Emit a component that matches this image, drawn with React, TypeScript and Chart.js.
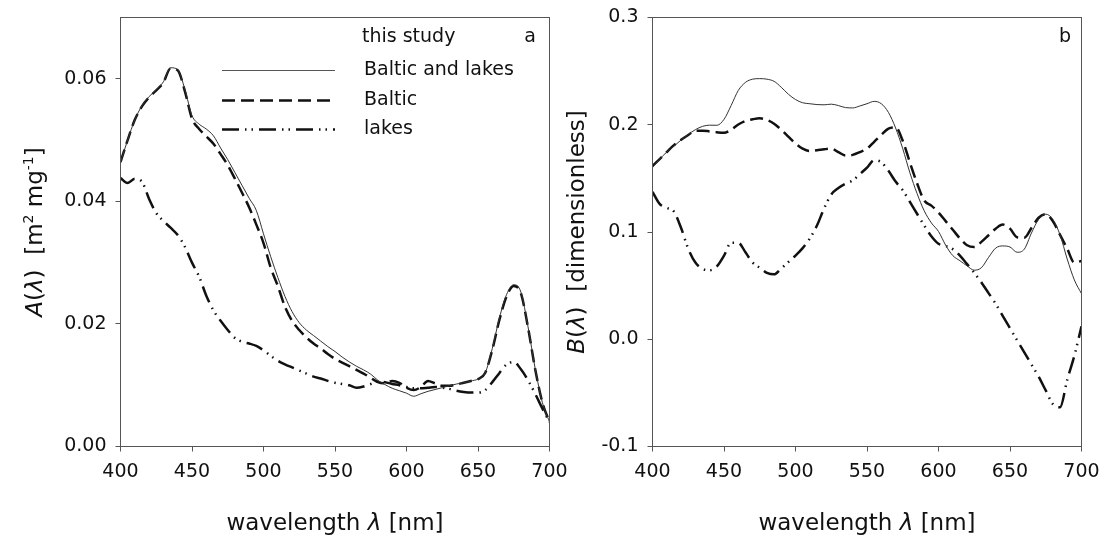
import React, { useEffect, useRef } from 'react';
import { Chart, registerables } from 'chart.js';

Chart.register(...registerables);

// ---------- data ----------
const wavelengths = [
  400, 405, 410, 415, 420, 425, 430, 435, 440, 445, 450, 455, 460, 465, 470, 475, 480, 485, 490, 495,
  500, 505, 510, 515, 520, 525, 530, 535, 540, 545, 550, 555, 560, 565, 570, 575, 580, 585, 590, 595,
  600, 605, 610, 615, 620, 625, 630, 635, 640, 645, 650, 655, 660, 665, 670, 675, 680, 685, 690, 695, 700,
];

// panel a: A(lambda) [m2 mg-1]
const aBalticLakes = [
  0.0464, 0.0500, 0.0533, 0.0556, 0.0571, 0.0582, 0.0595, 0.0618, 0.0615, 0.0583, 0.0540, 0.0526, 0.0518, 0.0507, 0.0487, 0.0468, 0.0447, 0.0426, 0.0405, 0.0385,
  0.0347, 0.0310, 0.0276, 0.0245, 0.0220, 0.0202, 0.0190, 0.0181, 0.0172, 0.0163, 0.0155, 0.0146, 0.0138, 0.0131, 0.0125, 0.0118, 0.0108, 0.0101, 0.0095, 0.0091,
  0.0087, 0.0082, 0.0086, 0.0090, 0.0093, 0.0096, 0.0099, 0.0102, 0.0104, 0.0107, 0.0110, 0.0120, 0.0160, 0.0210, 0.0248, 0.0264, 0.0252, 0.0195, 0.0127, 0.0072, 0.0040,
];
const aBaltic = [
  0.0464, 0.0500, 0.0533, 0.0555, 0.0570, 0.0581, 0.0594, 0.0617, 0.0614, 0.0580, 0.0535, 0.0518, 0.0506, 0.0494, 0.0477, 0.0459, 0.0437, 0.0414, 0.0390, 0.0362,
  0.0332, 0.0292, 0.0262, 0.0228, 0.0205, 0.0190, 0.0178, 0.0168, 0.0160, 0.0151, 0.0143, 0.0137, 0.0131, 0.0125, 0.0119, 0.0112, 0.0105, 0.0103, 0.0107, 0.0104,
  0.0096, 0.0092, 0.0097, 0.0107, 0.0103, 0.0099, 0.0099, 0.0101, 0.0104, 0.0107, 0.0110, 0.0120, 0.0158, 0.0207, 0.0245, 0.0262, 0.0250, 0.0194, 0.0126, 0.0072, 0.0040,
];
const aLakes = [
  0.0438, 0.0430, 0.0437, 0.0432, 0.0404, 0.0381, 0.0368, 0.0357, 0.0345, 0.0326, 0.0300, 0.0277, 0.0246, 0.0222, 0.0205, 0.0190, 0.0177, 0.0171, 0.0168, 0.0164,
  0.0157, 0.0148, 0.0140, 0.0134, 0.0129, 0.0124, 0.0119, 0.0114, 0.0111, 0.0107, 0.0104, 0.0102, 0.0100, 0.0096, 0.0098, 0.0102, 0.0106, 0.0105, 0.0102, 0.0100,
  0.0097, 0.0095, 0.0095, 0.0096, 0.0097, 0.0096, 0.0094, 0.0091, 0.0089, 0.0088, 0.0088, 0.0092, 0.0105, 0.0120, 0.0134, 0.0138, 0.0126, 0.0108, 0.0086, 0.0062, 0.0040,
];

// panel b: B(lambda) [dimensionless]
const bBalticLakes = [
  0.1600, 0.1680, 0.1745, 0.1800, 0.1858, 0.1910, 0.1954, 0.1985, 0.1996, 0.1995, 0.2050, 0.2180, 0.2320, 0.2395, 0.2425, 0.2430, 0.2425, 0.2405, 0.2350, 0.2285,
  0.2235, 0.2205, 0.2196, 0.2188, 0.2186, 0.2192, 0.2179, 0.2160, 0.2157, 0.2175, 0.2196, 0.2218, 0.2196, 0.2115, 0.1970, 0.1777, 0.1552, 0.1359, 0.1198, 0.1085,
  0.1005, 0.0877, 0.0780, 0.0732, 0.0684, 0.0644, 0.0667, 0.0763, 0.0850, 0.0870, 0.0860, 0.0811, 0.0840, 0.0990, 0.1117, 0.1166, 0.1117, 0.0973, 0.0748, 0.0553, 0.0425,
];
const bBaltic = [
  0.1616, 0.1680, 0.1745, 0.1810, 0.1860, 0.1905, 0.1944, 0.1945, 0.1938, 0.1930, 0.1925, 0.1954, 0.2002, 0.2035, 0.2051, 0.2060, 0.2045, 0.2010, 0.1954, 0.1890,
  0.1825, 0.1777, 0.1755, 0.1762, 0.1771, 0.1777, 0.1745, 0.1713, 0.1719, 0.1745, 0.1777, 0.1841, 0.1906, 0.1964, 0.1975, 0.1850, 0.1648, 0.1455, 0.1294, 0.1246,
  0.1182, 0.1101, 0.1021, 0.0940, 0.0876, 0.0860, 0.0908, 0.0970, 0.1031, 0.1069, 0.1031, 0.0950, 0.0947, 0.1037, 0.1133, 0.1166, 0.1101, 0.0973, 0.0844, 0.0715, 0.0730,
];
const bLakes = [
  0.1375, 0.1262, 0.1225, 0.1190, 0.1037, 0.0844, 0.0715, 0.0656, 0.0644, 0.0680, 0.0780, 0.0900, 0.0900, 0.0811, 0.0715, 0.0667, 0.0619, 0.0605, 0.0660, 0.0720,
  0.0780, 0.0850, 0.0940, 0.1060, 0.1220, 0.1350, 0.1410, 0.1450, 0.1480, 0.1540, 0.1600, 0.1670, 0.1650, 0.1570, 0.1470, 0.1390, 0.1280, 0.1170, 0.1060, 0.0960,
  0.0890, 0.0870, 0.0840, 0.0780, 0.0700, 0.0620, 0.0530, 0.0430, 0.0330, 0.0215, 0.0103, -0.0010, -0.0122, -0.0235, -0.0348, -0.0477, -0.0605, -0.0635, -0.0380, -0.0154, 0.0120,
];

const xTickValues = [400, 450, 500, 550, 600, 650, 700];
const aTickValues = [0, 0.02, 0.04, 0.06];
const bTickValues = [-0.1, 0, 0.1, 0.2, 0.3];
const legendTitle = 'this study';
const seriesNames = ['Baltic and lakes', 'Baltic', 'lakes'];

// ---------- styles ----------
const FONT = '"DejaVu Sans", Verdana, sans-serif';
const INK = '#111';
const AXIS = '#555';
const TICK_SIZE = 19;
const LEGEND_SIZE = 19;
const TITLE_SIZE = 23;
const styles = [
  { color: '#333', width: 1, dash: [] as number[] },
  { color: '#111', width: 2.5, dash: [13, 6] },
  { color: '#111', width: 2.5, dash: [17, 6, 1.5, 5, 1.5, 6] },
];

type Seg = { t: string; it?: boolean; sup?: boolean };

function drawRich(ctx: CanvasRenderingContext2D, segs: Seg[], cx: number, cy: number, rot: number, size: number) {
  ctx.save();
  ctx.translate(cx, cy);
  ctx.rotate(rot);
  const fontOf = (s: Seg) => `${s.it ? 'italic ' : ''}${s.sup ? Math.round(size * 0.62) : size}px ${FONT}`;
  let total = 0;
  const widths = segs.map((s) => {
    ctx.font = fontOf(s);
    const w = ctx.measureText(s.t).width;
    total += w;
    return w;
  });
  let x = -total / 2;
  ctx.fillStyle = INK;
  ctx.textBaseline = 'alphabetic';
  ctx.textAlign = 'left';
  const base = size * 0.36;
  segs.forEach((s, i) => {
    ctx.font = fontOf(s);
    ctx.fillText(s.t, x, s.sup ? base - size * 0.42 : base);
    x += widths[i];
  });
  ctx.restore();
}

const xTitle: Seg[] = [{ t: 'wavelength ' }, { t: 'λ', it: true }, { t: ' [nm]' }];
const aTitle: Seg[] = [{ t: 'A', it: true }, { t: '(' }, { t: 'λ', it: true }, { t: ')  [m' }, { t: '2', sup: true }, { t: ' mg' }, { t: '-1', sup: true }, { t: ']' }];
const bTitle: Seg[] = [{ t: 'B', it: true }, { t: '(' }, { t: 'λ', it: true }, { t: ')  [dimensionless]' }];

interface PanelOpts {
  data: number[][];
  yMin: number;
  yMax: number;
  yTicks: number[];
  decimals: number;
  yAxisWidth: number;
  padRight: number;
  yTitle: Seg[];
  yTitleX: number;
  panelLabel: string;
  labelX: number;
  legend: boolean;
}

function makeConfig(o: PanelOpts): any {
  const decor = {
    id: 'decor',
    afterDraw(chart: any) {
      const ctx: CanvasRenderingContext2D = chart.ctx;
      const a = chart.chartArea;
      ctx.save();
      ctx.strokeStyle = AXIS;
      ctx.lineWidth = 1;
      ctx.strokeRect(a.left, a.top, a.right - a.left, a.bottom - a.top);
      ctx.restore();
      drawRich(ctx, xTitle, (a.left + a.right) / 2, 522, 0, TITLE_SIZE);
      drawRich(ctx, o.yTitle, o.yTitleX, (a.top + a.bottom) / 2, -Math.PI / 2, TITLE_SIZE);
      ctx.save();
      ctx.fillStyle = INK;
      ctx.font = `${LEGEND_SIZE}px ${FONT}`;
      ctx.textBaseline = 'middle';
      ctx.textAlign = 'center';
      ctx.fillText(o.panelLabel, o.labelX, 37);
      if (o.legend) {
        ctx.textAlign = 'left';
        ctx.fillText(legendTitle, 362, 37);
        const ys = [70.5, 100.5, 129.5];
        seriesNames.forEach((name, i) => {
          const st = styles[i];
          ctx.save();
          ctx.strokeStyle = i === 0 ? '#555' : st.color;
          ctx.lineWidth = st.width;
          ctx.setLineDash(st.dash);
          ctx.lineCap = 'butt';
          ctx.beginPath();
          ctx.moveTo(222, ys[i]);
          ctx.lineTo(335, ys[i]);
          ctx.stroke();
          ctx.restore();
          ctx.fillText(name, 364, ys[i]);
        });
      }
      ctx.restore();
    },
  };

  return {
    type: 'line',
    data: {
      datasets: o.data.map((vals, i) => ({
        label: seriesNames[i],
        data: wavelengths.map((w, k) => ({ x: w, y: vals[k] })),
        borderColor: styles[i].color,
        borderWidth: styles[i].width,
        borderDash: styles[i].dash,
        borderCapStyle: 'butt',
        pointRadius: 0,
        fill: false,
        cubicInterpolationMode: 'monotone',
      })),
    },
    options: {
      animation: false,
      responsive: false,
      events: [],
      layout: { padding: { top: 17.5, right: o.padRight, left: 0, bottom: 0 } },
      plugins: { legend: { display: false }, tooltip: { enabled: false } },
      scales: {
        x: {
          type: 'linear',
          min: 400,
          max: 700,
          afterBuildTicks: (s: any) => {
            s.ticks = xTickValues.map((v) => ({ value: v }));
          },
          afterFit: (s: any) => {
            s.height = 95.5;
            s.paddingLeft = 0;
            s.paddingRight = 0;
          },
          border: { display: false },
          grid: { drawOnChartArea: false, drawTicks: true, tickLength: 5, color: AXIS, lineWidth: 1 },
          ticks: { color: INK, font: { family: FONT, size: TICK_SIZE }, padding: 9, maxRotation: 0, autoSkip: false },
        },
        y: {
          type: 'linear',
          min: o.yMin,
          max: o.yMax,
          afterBuildTicks: (s: any) => {
            s.ticks = o.yTicks.map((v) => ({ value: v }));
          },
          afterFit: (s: any) => {
            s.width = o.yAxisWidth;
            s.paddingTop = 0;
            s.paddingBottom = 0;
          },
          border: { display: false },
          grid: { drawOnChartArea: false, drawTicks: true, tickLength: 5, color: AXIS, lineWidth: 1 },
          ticks: {
            color: INK,
            font: { family: FONT, size: TICK_SIZE },
            padding: 9,
            autoSkip: false,
            callback: (v: any) => Number(v).toFixed(o.decimals),
          },
        },
      },
    },
    plugins: [decor],
  };
}

function Panel({ left, width, opts }: { left: number; width: number; opts: PanelOpts }) {
  const ref = useRef<HTMLCanvasElement>(null);
  useEffect(() => {
    if (!ref.current) return;
    const chart = new Chart(ref.current, makeConfig(opts));
    return () => chart.destroy();
  }, []);
  return (
    <canvas
      ref={ref}
      width={width}
      height={542}
      style={{ position: 'absolute', left, top: 0, width, height: 542 }}
    />
  );
}

export default function App() {
  const aOpts: PanelOpts = {
    data: [aBalticLakes, aBaltic, aLakes],
    yMin: 0,
    yMax: 0.07,
    yTicks: aTickValues,
    decimals: 2,
    yAxisWidth: 120.5,
    padRight: 600 - 549.5,
    yTitle: aTitle,
    yTitleX: 34,
    panelLabel: 'a',
    labelX: 530,
    legend: true,
  };
  const bOpts: PanelOpts = {
    data: [bBalticLakes, bBaltic, bLakes],
    yMin: -0.1,
    yMax: 0.3,
    yTicks: bTickValues,
    decimals: 1,
    yAxisWidth: 112.5,
    padRight: 562 - 541.5,
    yTitle: bTitle,
    yTitleX: 36,
    panelLabel: 'b',
    labelX: 525,
    legend: false,
  };
  return (
    <div style={{ position: 'fixed', left: 0, top: 0, width: 1102, height: 542, background: '#fff', overflow: 'hidden' }}>
      <Panel left={0} width={600} opts={aOpts} />
      <Panel left={540} width={562} opts={bOpts} />
    </div>
  );
}
